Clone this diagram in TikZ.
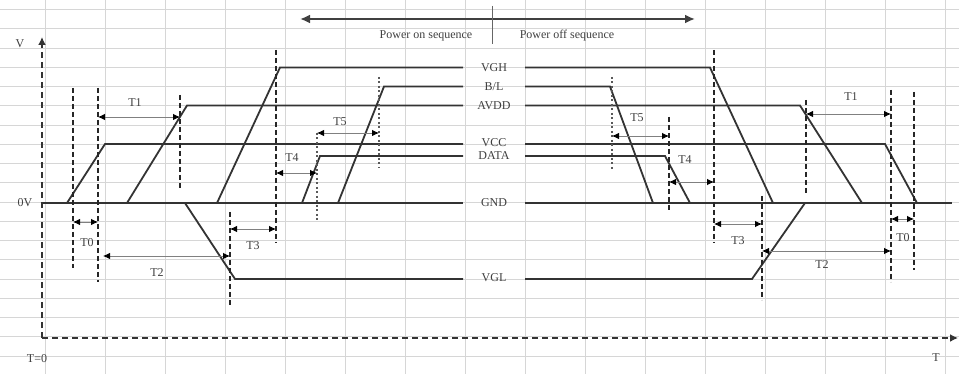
\documentclass[tikz,border=0pt]{standalone}
\usepackage{fontspec}
\setmainfont{Liberation Serif}
\usetikzlibrary{arrows.meta}
\begin{document}
\begin{tikzpicture}[x=1pt,y=-1pt,
  gridline/.style={line width=0.8pt, draw=black!16},
  sig/.style={line width=1.8pt, draw=black!80},
  vdash/.style={line width=1.6pt, draw=black!85, dash pattern=on 5pt off 3pt},
  vdot/.style={line width=1.1pt, draw=black!65, dash pattern=on 2pt off 2.5pt},
  axisline/.style={line width=1.9pt, draw=black!80, dash pattern=on 6pt off 4pt, -{Latex[length=8pt,width=8pt]}},
  dim/.style={line width=0.8pt, draw=black!50, {Latex[length=7pt,width=6.5pt,black]}-{Latex[length=7pt,width=6.5pt,black]}},
  lab/.style={font=\fontsize{12}{13}\selectfont, text=black!75, inner sep=0.5pt},
]
\fill[white] (0,0) rectangle (959,374);
\useasboundingbox (0,0) rectangle (959,374);

% background grid
\foreach \k in {0,...,18} \draw[gridline] (0,{9.5+19.25*\k}) -- (959,{9.5+19.25*\k});
\foreach \k in {0,...,15} \draw[gridline] ({45+60*\k},0) -- ({45+60*\k},374);

% axes
\coordinate (origin) at (42,338);
\coordinate (vtop) at (42,37);
\coordinate (tend) at (958,338);
\draw[axisline] (origin) -- (vtop);
\draw[axisline] (origin) -- (tend);
\node[lab] (vlab) at (20,44) {V};
\node[lab] (zlab) at (25,203) {0V};
\node[lab] (t0lab) at (37,359) {T=0};
\node[lab] (tlab) at (936,358) {T};

% top sequence arrow
\coordinate (seqL) at (300,19);
\coordinate (seqR) at (695,19);
\draw[line width=2.8pt, draw=black!75, {Latex[length=10pt,width=9pt]}-{Latex[length=10pt,width=9pt]}] (seqL) -- (seqR);
\draw[line width=0.9pt, draw=black!60] (492,6) -- (492,44);
\node[lab] (pon) at (426,36) {Power on sequence};
\node[lab] (poff) at (567,36) {Power off sequence};

% level labels
\node[lab] (lVGH) at (494,67.5) {VGH};
\node[lab] (lBL) at (494,87) {B/L};
\node[lab] (lAVDD) at (494,106) {AVDD};
\node[lab] (lVCC) at (494,143) {VCC};
\node[lab] (lDATA) at (494,156) {DATA};
\node[lab] (lGND) at (494,203) {GND};
\node[lab] (lVGL) at (494,278) {VGL};

% signals
\draw[sig] (42,203) -- (463,203);
\draw[sig] (525,203) -- (952,203);
\draw[sig] (217,203) -- (280,67.5) -- (463,67.5);
\draw[sig] (525,67.5) -- (710,67.5) -- (773,203);
\draw[sig] (338,203) -- (384,86.5) -- (463,86.5);
\draw[sig] (525,86.5) -- (610,86.5) -- (653,203);
\draw[sig] (127,203) -- (187,105.5) -- (463,105.5);
\draw[sig] (525,105.5) -- (800,105.5) -- (862,203);
\draw[sig] (67,203) -- (105,144) -- (463,144);
\draw[sig] (525,144) -- (885,144) -- (917,203);
\draw[sig] (302,203) -- (320,156) -- (463,156);
\draw[sig] (525,156) -- (665,156) -- (690,203);
\draw[sig] (185,203) -- (235,279) -- (463,279);
\draw[sig] (525,279) -- (752,279) -- (805,203);

% dashed markers
\draw[vdash] (73,88) -- (73,268);
\draw[vdash] (98,88) -- (98,282);
\draw[vdash] (180,95) -- (180,188);
\draw[vdash] (230,212) -- (230,305);
\draw[vdash] (276,50) -- (276,243);
\draw[vdot] (317,133) -- (317,220);
\draw[vdot] (379,77) -- (379,168);
\draw[vdot] (612,77) -- (612,170);
\draw[vdash, line width=1.1pt] (669,117) -- (669,210);
\draw[vdash] (714,50) -- (714,243);
\draw[vdash, line width=1.1pt] (762,196) -- (762,300);
\draw[vdash] (806,100) -- (806,195);
\draw[vdash] (891,90) -- (891,282);
\draw[vdash] (914,92) -- (914,270);

% interval arrows
\coordinate (t1la) at (98,117);  \coordinate (t1lb) at (180,117);
\coordinate (t1ra) at (806,114); \coordinate (t1rb) at (891,114);
\coordinate (t0la) at (73,222);  \coordinate (t0lb) at (98,222);
\coordinate (t0ra) at (891,219); \coordinate (t0rb) at (914,219);
\coordinate (t2la) at (103,256); \coordinate (t2lb) at (230,256);
\coordinate (t2ra) at (762,251); \coordinate (t2rb) at (891,251);
\coordinate (t3la) at (230,229); \coordinate (t3lb) at (276,229);
\coordinate (t3ra) at (714,224); \coordinate (t3rb) at (762,224);
\coordinate (t4la) at (276,173); \coordinate (t4lb) at (317,173);
\coordinate (t4ra) at (669,182); \coordinate (t4rb) at (714,182);
\coordinate (t5la) at (317,133); \coordinate (t5lb) at (379,133);
\coordinate (t5ra) at (612,136); \coordinate (t5rb) at (669,136);
\foreach \a/\b in {t1la/t1lb,t1ra/t1rb,t0la/t0lb,t0ra/t0rb,t2la/t2lb,t2ra/t2rb,t3la/t3lb,t3ra/t3rb,t4la/t4lb,t4ra/t4rb,t5la/t5lb,t5ra/t5rb}
  \draw[dim] (\a) -- (\b);

\node[lab] (T1l) at (135,103) {T1};
\node[lab] (T1r) at (851,97) {T1};
\node[lab] (T0l) at (87,243) {T0};
\node[lab] (T0r) at (903,238) {T0};
\node[lab] (T2l) at (157,273) {T2};
\node[lab] (T2r) at (822,265) {T2};
\node[lab] (T3l) at (253,246) {T3};
\node[lab] (T3r) at (738,241) {T3};
\node[lab] (T4l) at (292,158) {T4};
\node[lab] (T4r) at (685,160) {T4};
\node[lab] (T5l) at (340,122) {T5};
\node[lab] (T5r) at (637,118) {T5};
\end{tikzpicture}
\end{document}
